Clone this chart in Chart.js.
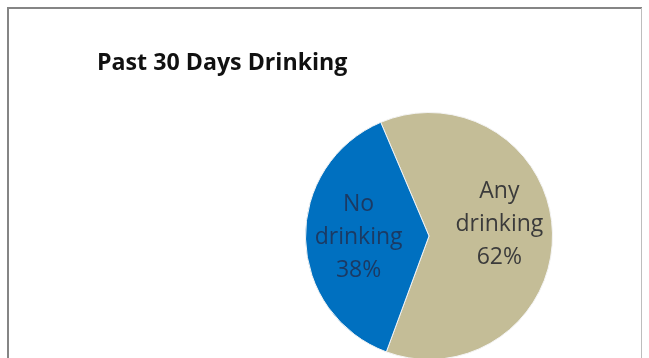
<!DOCTYPE html>
<html>
<head>
<meta charset="utf-8">
<script src="https://cdn.jsdelivr.net/npm/chart.js@4.4.1/dist/chart.umd.min.js"></script>
<style>
  html, body { margin: 0; padding: 0; background: #ffffff; overflow: hidden; }
  #wrap { width: 649px; height: 358px; overflow: hidden; position: relative; }
  canvas { display: block; }
</style>
</head>
<body>
<div id="wrap"><canvas id="pie" width="649" height="362"></canvas></div>
<script>
// Past 30 days drinking: share of respondents
const chartTitle = 'Past 30 Days Drinking';
const categories = ['Any drinking', 'No drinking'];
const labelLines = [['Any', 'drinking'], ['No', 'drinking']];
const percentages = [62, 38];
const sliceColors = ['#C4BD97', '#0070C0'];
const labelColors = ['#3b3b3b', '#1b3a63'];

// Frame around the chart and the title, drawn before the slices
const frameAndTitle = {
  id: 'frameAndTitle',
  beforeDraw(chart) {
    const ctx = chart.ctx;
    ctx.save();
    ctx.fillStyle = '#ffffff';
    ctx.fillRect(0, 0, chart.width, chart.height);
    ctx.strokeStyle = '#858585';
    ctx.lineWidth = 2;
    ctx.beginPath();
    ctx.moveTo(8, chart.height + 5);
    ctx.lineTo(8, 8);
    ctx.lineTo(642, 8);
    ctx.stroke();
    ctx.strokeStyle = '#bdbdbd';
    ctx.lineWidth = 1;
    ctx.beginPath();
    ctx.moveTo(641.5, 8);
    ctx.lineTo(641.5, chart.height + 5);
    ctx.stroke();
    ctx.fillStyle = '#111111';
    ctx.font = 'bold 23.2px "Open Sans"';
    ctx.textBaseline = 'alphabetic';
    ctx.textAlign = 'left';
    ctx.fillText(chartTitle, 97, 70);
    ctx.restore();
  }
};

// Category name and percentage written inside each slice
const sliceLabels = {
  id: 'sliceLabels',
  afterDatasetsDraw(chart, args, opts) {
    const ctx = chart.ctx;
    const meta = chart.getDatasetMeta(0);
    ctx.save();
    ctx.font = opts.font;
    ctx.textAlign = 'center';
    ctx.textBaseline = 'middle';
    meta.data.forEach((arc, i) => {
      const p = arc.getProps(['x', 'y', 'startAngle', 'endAngle', 'outerRadius'], true);
      const mid = (p.startAngle + p.endAngle) / 2;
      const r = p.outerRadius * opts.radiusFraction;
      const cx = p.x + Math.cos(mid) * r;
      const cy = p.y + Math.sin(mid) * r + (opts.shiftY[i] || 0);
      const lines = labelLines[i].concat([chart.data.datasets[0].data[i] + '%']);
      const top = cy - (lines.length - 1) * opts.lineHeight / 2;
      ctx.fillStyle = labelColors[i];
      lines.forEach((t, k) => ctx.fillText(t, cx, top + k * opts.lineHeight));
    });
    ctx.restore();
  }
};

new Chart(document.getElementById('pie'), {
  type: 'pie',
  data: {
    labels: categories,
    datasets: [{
      data: percentages,
      backgroundColor: sliceColors,
      borderColor: '#f4f4f4',
      borderWidth: 1
    }]
  },
  options: {
    responsive: false,
    devicePixelRatio: 1,
    animation: false,
    rotation: -23,
    layout: { padding: { left: 305, right: 96, top: 112, bottom: 2 } },
    plugins: {
      legend: { display: false },
      title: { display: false },
      tooltip: { enabled: false },
      sliceLabels: {
        font: '23px "Open Sans"',
        lineHeight: 33,
        radiusFraction: 0.57,
        shiftY: [-10, 0]
      }
    }
  },
  plugins: [frameAndTitle, sliceLabels]
});
</script>
</body>
</html>
